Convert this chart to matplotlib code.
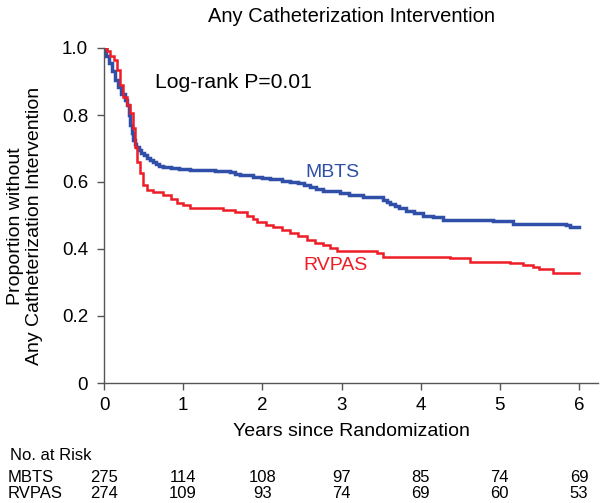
import matplotlib
matplotlib.use("Agg")
import matplotlib.pyplot as plt

plt.rcParams['font.family'] = ['Liberation Sans', 'DejaVu Sans']

# Kaplan-Meier step data (time in years, proportion without intervention)
mbts_t = [0, 0.03, 0.06, 0.10, 0.14, 0.18, 0.22, 0.26, 0.29, 0.31, 0.33, 0.35, 0.37, 0.39, 0.41, 0.44,
          0.47, 0.50, 0.54, 0.58, 0.62, 0.66, 0.70, 0.75, 0.85, 0.95, 1.09, 1.40, 1.59, 1.66, 1.72,
          1.88, 2.00, 2.10, 2.25, 2.35, 2.45, 2.52, 2.60, 2.68, 2.77, 2.98, 3.10, 3.27, 3.52, 3.57,
          3.61, 3.67, 3.73, 3.82, 3.92, 4.03, 4.15, 4.28, 4.91, 5.16, 5.84, 5.88, 6.0]
mbts_s = [1.0, 0.975, 0.955, 0.93, 0.905, 0.885, 0.862, 0.845, 0.83, 0.80, 0.77, 0.745, 0.725, 0.712, 0.703, 0.695,
          0.688, 0.680, 0.672, 0.666, 0.660, 0.654, 0.649, 0.645, 0.642, 0.639, 0.636, 0.633, 0.630, 0.625, 0.620,
          0.614, 0.611, 0.608, 0.604, 0.600, 0.596, 0.590, 0.585, 0.578, 0.572, 0.567, 0.562, 0.555, 0.546, 0.540,
          0.533, 0.527, 0.521, 0.514, 0.506, 0.500, 0.495, 0.488, 0.484, 0.476, 0.472, 0.466, 0.466]

rvpas_t = [0, 0.04, 0.08, 0.12, 0.16, 0.20, 0.24, 0.29, 0.33, 0.36, 0.39, 0.42, 0.45, 0.49, 0.54, 0.62,
           0.75, 0.85, 0.92, 1.00, 1.09, 1.50, 1.65, 1.80, 1.88, 1.93, 2.05, 2.14, 2.25, 2.35, 2.45, 2.56,
           2.66, 2.77, 2.86, 2.94, 3.45, 3.53, 4.37, 4.62, 5.13, 5.29, 5.42, 5.50, 5.67, 6.0]
rvpas_s = [1.0, 0.99, 0.975, 0.964, 0.934, 0.89, 0.853, 0.83, 0.806, 0.76, 0.705, 0.66, 0.627, 0.591, 0.576, 0.570,
           0.562, 0.548, 0.537, 0.530, 0.522, 0.516, 0.510, 0.500, 0.490, 0.480, 0.473, 0.466, 0.457, 0.448, 0.438, 0.427,
           0.419, 0.412, 0.402, 0.394, 0.388, 0.376, 0.373, 0.361, 0.358, 0.352, 0.346, 0.340, 0.328, 0.328]

years = [0, 1, 2, 3, 4, 5, 6]
risk_mbts = [275, 114, 108, 97, 85, 74, 69]
risk_rvpas = [274, 109, 93, 74, 69, 60, 53]

blue = '#2f4fa8'
red = '#ee1c25'
gray = '#555555'

W, H = 604, 503
fig = plt.figure(figsize=(W/100, H/100), dpi=100)
ax = fig.add_axes([104/W, 1-383/H, (598-104)/W, (383-48)/H])

ax.plot(mbts_t, mbts_s, drawstyle='steps-post', color=blue, lw=2.5, solid_joinstyle='miter')
ax.plot(rvpas_t, rvpas_s, drawstyle='steps-post', color=red, lw=1.8, solid_joinstyle='miter')

ax.set_xlim(0, 6.24)
ax.set_ylim(0, 1.0)
ax.set_xticks(years)
ax.set_xticklabels([str(y) for y in years])
ax.set_yticks([0, 0.2, 0.4, 0.6, 0.8, 1.0])
ax.set_yticklabels(['0', '0.2', '0.4', '0.6', '0.8', '1.0'])
for s in ['top', 'right']:
    ax.spines[s].set_visible(False)
for s in ['left', 'bottom']:
    ax.spines[s].set_color(gray)
    ax.spines[s].set_linewidth(1.0)
ax.tick_params(direction='out', length=5, width=1.0, color=gray, labelsize=13.5)
ax.tick_params(axis='y', pad=6.5)
ax.tick_params(axis='x', pad=5)

def ftext(x, y, s, **kw):
    fig.text(x/W, 1-y/H, s, **kw)

ftext(351, 22, 'Any Catheterization Intervention', ha='center', va='baseline', fontsize=14.5)
ftext(155, 88, 'Log-rank P=0.01', ha='left', va='baseline', fontsize=15.2)
ftext(305, 177, 'MBTS', ha='left', va='baseline', fontsize=14, color=blue)
ftext(303, 270, 'RVPAS', ha='left', va='baseline', fontsize=14, color=red)

ftext(25, 226, 'Proportion without\nAny Catheterization Intervention', rotation=90,
      ha='center', va='center', fontsize=14, linespacing=1.15)
ftext(351, 436, 'Years since Randomization', ha='center', va='baseline', fontsize=14)

ftext(10, 460, 'No. at Risk', ha='left', va='baseline', fontsize=12)
ftext(8, 482, 'MBTS', ha='left', va='baseline', fontsize=12)
ftext(8, 498, 'RVPAS', ha='left', va='baseline', fontsize=12)
for y, a, b in zip(years, risk_mbts, risk_rvpas):
    xp = ax.transData.transform((y, 0))[0]
    ftext(xp, 482, str(a), ha='center', va='baseline', fontsize=12)
    ftext(xp, 498, str(b), ha='center', va='baseline', fontsize=12)

fig.savefig('out.png', dpi=100)
